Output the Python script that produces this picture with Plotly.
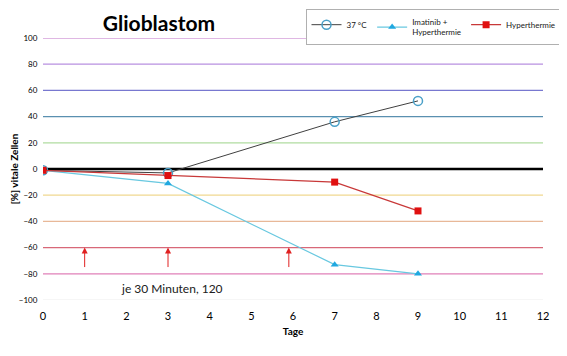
import plotly.graph_objects as go

days = [0, 3, 7, 9]
s37 = [-1, -3, 36, 52]
imatinib = [-1, -11, -73, -80]
hyper = [-1, -5, -10, -32]

grid_levels = [100, 80, 60, 40, 20, -20, -40, -60, -80, -100]
grid_colors = ["#c070c8", "#b890e0", "#7878d0", "#5a90b0", "#b0dca0",
               "#f0d890", "#e8b898", "#d86878", "#e080b8", "#eeeeee"]
y_ticks = [100, 80, 60, 40, 20, 0, -20, -40, -60, -80, -100]
x_ticks = list(range(0, 13))
arrow_days = [1, 3, 5.9]

font = "Lato"
fig = go.Figure()

for lv, c in zip(grid_levels, grid_colors):
    fig.add_shape(type="line", xref="paper", x0=0, x1=1, yref="y", y0=lv, y1=lv,
                  line=dict(color=c, width=1.2), layer="below")
fig.add_shape(type="line", xref="paper", x0=0, x1=1, yref="y", y0=0, y1=0,
              line=dict(color="black", width=2.5), layer="below")

fig.add_trace(go.Scatter(x=days, y=s37, name="37 °C", mode="lines+markers",
                         line=dict(color="#404040", width=1),
                         marker=dict(symbol="circle-open", size=9, color="#4aa0c8", line=dict(width=1.5))))
fig.add_trace(go.Scatter(x=days, y=imatinib, name="Imatinib +<br>Hyperthermie", mode="lines+markers",
                         line=dict(color="#68c8e0", width=1.2),
                         marker=dict(symbol="triangle-up", size=7, color="#20a8e0")))
fig.add_trace(go.Scatter(x=days, y=hyper, name="Hyperthermie", mode="lines+markers",
                         line=dict(color="#c83838", width=1.2),
                         marker=dict(symbol="square", size=7, color="#e01010")))

for d in arrow_days:
    fig.add_annotation(x=d, y=-60, ax=d, ay=-76, xref="x", yref="y", axref="x", ayref="y",
                       showarrow=True, arrowhead=2, arrowsize=1.2, arrowwidth=1, arrowcolor="#e02020", text="")

fig.add_annotation(x=3.1, y=-91, xref="x", yref="y", text="je 30 Minuten, 120", showarrow=False,
                   font=dict(family=font, size=12, color="#202020"))

fig.update_layout(
    width=559, height=348,
    margin=dict(l=35, r=24, t=30, b=56, autoexpand=False),
    paper_bgcolor="white", plot_bgcolor="white",
    title=dict(text="<b>Glioblastom</b>", x=0.27, xanchor="center", y=0.955, yanchor="middle",
               font=dict(family=font, size=21, color="black")),
    legend=dict(orientation="h", x=0.525, y=1.11, xanchor="left", yanchor="top",
                bordercolor="#b0b0b0", borderwidth=1, font=dict(family=font, size=8, color="#202020"),
                bgcolor="white", itemwidth=30, tracegroupgap=0),
    xaxis=dict(range=[0, 12], tickvals=x_ticks, showgrid=False, zeroline=False, showline=False,
               ticks="outside", ticklen=6, tickcolor="rgba(0,0,0,0)",
               tickfont=dict(family=font, size=11, color="black"),
               title=dict(text="<b>Tage</b>", font=dict(family=font, size=10, color="black"), standoff=6)),
    yaxis=dict(range=[-100, 100], tickvals=y_ticks, showgrid=False, zeroline=False, showline=False,
               ticks="outside", ticklen=3, tickcolor="rgba(0,0,0,0)",
               tickfont=dict(family=font, size=8, color="black"),
               title=dict(text="<b>[%] vitale Zellen</b>", font=dict(family=font, size=10, color="black"), standoff=4)),
)
fig.update_xaxes(tickprefix="<b>", ticksuffix="</b>")
fig.update_yaxes(tickprefix="<b>", ticksuffix="</b>")

fig.write_html("out.html")
